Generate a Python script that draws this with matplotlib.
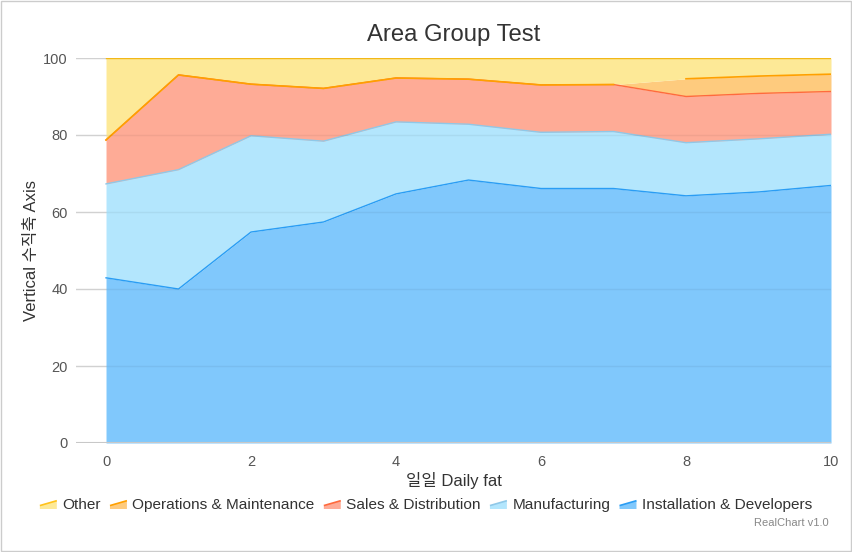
import numpy as np
import matplotlib
matplotlib.use("Agg")
import matplotlib.pyplot as plt
from matplotlib.patches import Patch, Polygon
from matplotlib.legend_handler import HandlerPatch

plt.rcParams['font.family'] = ['Liberation Sans', 'Noto Sans CJK KR', 'DejaVu Sans']

# data (percent shares)
x = np.arange(11)
installation = [42.9, 40.0, 54.8, 57.4, 64.7, 68.3, 66.1, 66.1, 64.2, 65.2, 66.9]
manufacturing = [24.4, 31.0, 25.0, 21.0, 18.7, 14.5, 14.6, 14.8, 13.8, 13.8, 13.3]
sales = [11.4, 24.6, 13.4, 13.7, 11.4, 11.7, 12.3, 12.2, 12.0, 11.8, 11.1]
operations = [0, 0, 0, 0, 0, 0, 0, 0, 4.6, 4.5, 4.5]
other = [21.3, 4.4, 6.8, 7.9, 5.2, 5.5, 7.0, 6.9, 5.4, 4.7, 4.2]

names = ['Installation & Developers', 'Manufacturing', 'Sales & Distribution',
         'Operations & Maintenance', 'Other']
series = [installation, manufacturing, sales, operations, other]
fills = ['#80c8fc', '#b3e6fd', '#feab96', '#fecb7e', '#fde997']
lines = ['#2a9df4', '#8fc8e8', '#ff6a3d', '#ffa000', '#ffc21a']

data = np.array(series, dtype=float)
pct = data / data.sum(axis=0) * 100
tops = np.cumsum(pct, axis=0)

fig = plt.figure(figsize=(8.52, 5.52), dpi=100)
ax = fig.add_axes([76/852, 1-443/552, (831-76)/852, 385/552])

bottom = np.zeros(len(x))
for i in range(len(series)):
    ax.fill_between(x, bottom, tops[i], color=fills[i], lw=0, zorder=2)
    bottom = tops[i]

for i in range(len(series)):
    if names[i] == 'Operations & Maintenance':
        ax.plot(x[:8], tops[i][:8], color=lines[i], lw=1.2, zorder=3)
        ax.plot(x[8:], tops[i][8:], color=lines[i], lw=1.2, zorder=3)
    else:
        ax.plot(x, tops[i], color=lines[i], lw=1, zorder=3)

for yv in range(0, 101, 20):
    ax.axhline(yv, color='#dddddd', lw=1, zorder=1)
    ax.axhline(yv, color=(0, 0, 0, 0.05), lw=1, zorder=4)
ax.axhline(0, color='#c8c8c8', lw=1.5, zorder=5)

ax.set_xlim(-0.414, 10)
ax.set_ylim(0, 100)
for s in ax.spines.values():
    s.set_visible(False)
ax.set_xticks(range(0, 11, 2))
ax.set_yticks(range(0, 101, 20))
ax.tick_params(length=0, labelsize=10.5, colors='#555555', pad=9)
ax.tick_params(axis='y', pad=6)

ax.set_title('Area Group Test', fontsize=17.2, color='#333333', pad=12)
ax.set_xlabel('일일 Daily fat', fontsize=12, color='#333333', labelpad=2)
ax.set_ylabel('Vertical 수직축 Axis', fontsize=12, color='#333333', labelpad=3)


class AreaIcon(HandlerPatch):
    def create_artists(self, legend, orig_handle, xdescent, ydescent, width, height, fontsize, trans):
        w, h = width, height
        p = Polygon([[0, 0], [w, 0], [w, h * 0.85], [0, h * 0.35]], closed=True,
                    facecolor=orig_handle.get_facecolor(), edgecolor='none', transform=trans)
        e = Polygon([[0, h * 0.35], [w, h * 0.85]], closed=False, fill=False,
                    edgecolor=orig_handle.get_edgecolor(), lw=1.2, transform=trans)
        return [p, e]


handles = [Patch(facecolor=fills[i], edgecolor=lines[i], label=names[i])
           for i in reversed(range(len(series)))]
fig.legend(handles=handles, loc='center', bbox_to_anchor=(426/852, 1-505/552), ncol=5,
           frameon=False, fontsize=11.1, handlelength=1.1, handleheight=0.6,
           handletextpad=0.35, columnspacing=0.6, labelcolor='#333333',
           handler_map={Patch: AreaIcon()})

fig.text(829/852, 1-523/552, 'RealChart v1.0', ha='right', va='center',
         fontsize=8, color='#888888')

fig.patches.append(plt.Rectangle((0.001, 0.001), 0.998, 0.998, transform=fig.transFigure,
                                 fill=False, edgecolor='#cccccc', lw=1))

fig.savefig('out.png', dpi=100)
